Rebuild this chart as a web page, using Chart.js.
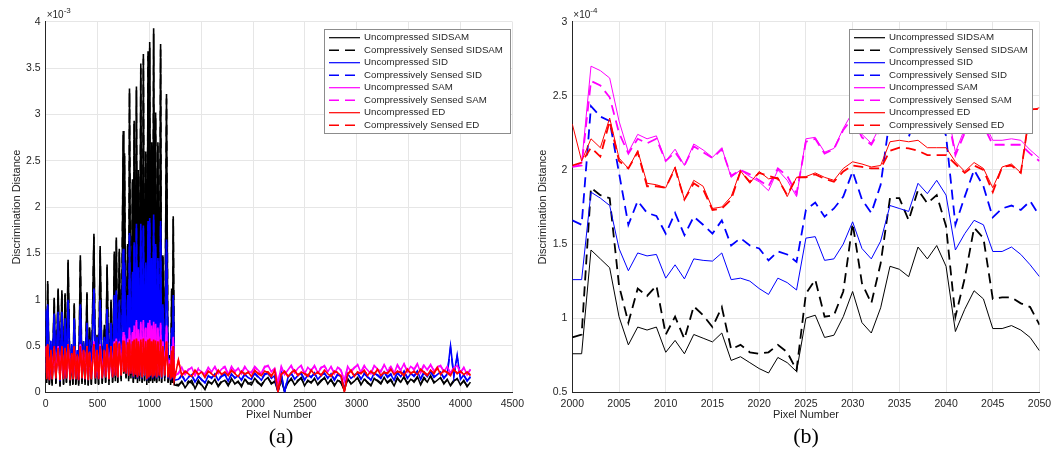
<!DOCTYPE html>
<html>
<head>
<meta charset="utf-8">
<script src="https://cdn.jsdelivr.net/npm/chart.js@4.4.1/dist/chart.umd.min.js"></script>
<style>
  body { margin: 0; background: #fff; width: 1059px; height: 465px; position: relative; overflow: hidden; }
  .panel { position: absolute; top: 0; }
  #full-wrap { left: 0; }
  #zoom-wrap { left: 530px; }
  .caption { position: absolute; top: 423px; transform: translateX(-50%); font-family: "Liberation Serif", "Times New Roman", serif; font-size: 22px; color: #000; }
</style>
</head>
<body>
<div class="panel" id="full-wrap"><canvas id="full-chart" width="530" height="430"></canvas></div>
<div class="panel" id="zoom-wrap"><canvas id="zoom-chart" width="529" height="430"></canvas></div>
<div class="caption" style="left:281px">(a)</div>
<div class="caption" style="left:806px">(b)</div>
<script>
const FONT = '"Liberation Sans", Arial, Helvetica, sans-serif';

const seriesNames = [
  'Uncompressed SIDSAM', 'Compressively Sensed SIDSAM',
  'Uncompressed SID', 'Compressively Sensed SID',
  'Uncompressed SAM', 'Compressively Sensed SAM',
  'Uncompressed ED', 'Compressively Sensed ED'
];
const seriesColors = ['#000000', '#000000', '#0000ff', '#0000ff', '#ff00ff', '#ff00ff', '#ff0000', '#ff0000'];
const seriesDashed = [false, true, false, true, false, true, false, true];

// ---- panel (a): all pixels, values in units of 1e-3 ----
// irregular samples through the spiky part, then a regular grid up to 4096
const fullPixels = [
  0,10,19,35,50,62,82,98,120,138,
  156,172,187,200,216,235,250,262,275,290,
  305,318,334,350,365,380,398,410,423,440,
  465,480,495,510,525,545,566,578,592,610,
  630,645,662,672,681,695,710,728,748,754,
  760,775,790,800,808,822,837,845,853,865,
  875,885,894,905,917,930,942,953,965,975,
  987,995,1003,1012,1022,1032,1041,1050,1060,1070,
  1082,1095,1108,1118,1130,1148,1165,1180,1195,1205,
  1215,1222,1230,1240
];
for (let p = 1280; p <= 4096; p += 32) fullPixels.push(p);

const fullUncompSIDSAM = [
  0.80,0.10,1.20,0.08,0.45,0.07,1.02,0.09,1.12,0.06,
  1.10,0.08,1.07,0.10,1.43,0.07,0.45,0.08,0.96,0.08,
  0.40,0.07,1.48,0.09,0.55,0.08,1.08,0.07,0.69,0.08,
  1.71,0.09,0.62,0.08,1.58,0.09,0.73,0.10,1.38,0.08,
  1.00,0.10,1.52,0.12,1.67,0.10,1.55,0.12,2.82,0.20,
  2.58,0.15,1.60,0.12,3.28,0.15,2.30,0.10,2.93,0.14,
  3.30,0.10,2.40,0.12,3.55,0.10,3.65,0.12,2.60,0.08,
  3.68,0.10,3.78,0.12,2.70,0.10,3.93,0.12,3.02,0.10,
  2.70,0.12,3.76,0.10,1.48,0.12,3.22,0.10,0.40,0.08,
  1.12,0.10,1.90,0.08,
  0.07,0.12,0.05,0.10,0.13,0.04,0.11,0.08,0.03,0.12,
  0.09,0.14,0.06,0.11,0.13,0.07,0.15,0.09,0.12,0.06,
  0.14,0.10,0.08,0.15,0.11,0.07,0.13,0.16,0.09,0.12,
  0.01,0.14,0.02,0.10,0.15,0.08,0.12,0.16,0.07,0.13,
  0.10,0.15,0.08,0.12,0.16,0.09,0.14,0.07,0.13,0.11,
  0.02,0.15,0.09,0.12,0.16,0.08,0.14,0.11,0.07,0.15,
  0.12,0.09,0.16,0.10,0.13,0.07,0.15,0.11,0.17,0.09,
  0.14,0.12,0.17,0.08,0.15,0.11,0.18,0.10,0.13,0.16,
  0.09,0.14,0.07,0.12,0.15,0.08,0.13,0.06,0.11
];
const fullCsSIDSAM = [
  0.78,0.11,1.17,0.09,0.47,0.08,1.00,0.10,1.10,0.07,
  1.08,0.09,1.05,0.11,1.40,0.08,0.47,0.09,0.94,0.09,
  0.42,0.08,1.45,0.10,0.53,0.09,1.06,0.08,0.71,0.09,
  1.68,0.10,0.60,0.09,1.55,0.10,0.71,0.11,1.35,0.09,
  0.98,0.11,1.49,0.13,1.64,0.11,1.52,0.13,2.78,0.21,
  2.55,0.16,1.58,0.13,3.24,0.16,2.27,0.11,2.90,0.15,
  3.26,0.11,2.37,0.13,3.50,0.11,3.60,0.13,2.57,0.09,
  3.63,0.11,3.72,0.13,2.66,0.11,3.87,0.13,2.98,0.11,
  2.66,0.13,3.70,0.11,1.46,0.13,3.17,0.11,0.42,0.09,
  1.10,0.11,1.87,0.09,
  0.08,0.11,0.06,0.12,0.10,0.05,0.13,0.07,0.04,0.11,
  0.10,0.13,0.07,0.12,0.14,0.08,0.13,0.10,0.11,0.07,
  0.15,0.09,0.11,0.14,0.10,0.08,0.14,0.15,0.10,0.11,
  0.02,0.13,0.01,0.11,0.14,0.09,0.13,0.15,0.08,0.12,
  0.11,0.14,0.09,0.13,0.15,0.10,0.13,0.08,0.14,0.10,
  0.03,0.14,0.10,0.13,0.15,0.09,0.15,0.10,0.08,0.14,
  0.13,0.10,0.15,0.11,0.14,0.08,0.16,0.10,0.16,0.10,
  0.15,0.11,0.16,0.09,0.16,0.12,0.17,0.11,0.14,0.15,
  0.10,0.13,0.08,0.13,0.14,0.09,0.12,0.07,0.10
];
const fullUncompSID = [
  0.90,0.15,0.95,0.13,0.55,0.14,0.85,0.15,0.87,0.12,
  0.87,0.14,0.80,0.15,1.00,0.13,0.50,0.14,0.80,0.14,
  0.45,0.13,0.95,0.15,0.55,0.14,0.75,0.13,0.55,0.14,
  1.12,0.15,0.60,0.14,1.00,0.15,0.60,0.16,0.90,0.14,
  0.75,0.16,1.05,0.18,1.10,0.16,1.00,0.18,1.55,0.25,
  1.40,0.20,1.05,0.18,1.72,0.20,1.30,0.16,1.62,0.19,
  1.82,0.15,1.35,0.18,1.82,0.15,1.80,0.17,1.40,0.13,
  1.85,0.15,1.88,0.17,1.45,0.15,1.92,0.17,1.60,0.15,
  1.45,0.17,1.85,0.15,0.95,0.17,1.65,0.15,0.35,0.13,
  0.70,0.15,1.05,0.13,
  0.14,0.18,0.12,0.16,0.19,0.11,0.17,0.14,0.10,0.18,
  0.15,0.20,0.13,0.17,0.19,0.12,0.20,0.15,0.18,0.13,
  0.19,0.16,0.14,0.21,0.17,0.13,0.19,0.21,0.15,0.18,
  0.00,0.20,0.00,0.16,0.21,0.14,0.18,0.21,0.13,0.19,
  0.16,0.21,0.14,0.18,0.21,0.15,0.20,0.13,0.19,0.17,
  0.03,0.20,0.15,0.18,0.21,0.14,0.20,0.17,0.13,0.21,
  0.18,0.15,0.22,0.16,0.19,0.13,0.21,0.17,0.23,0.15,
  0.20,0.18,0.23,0.14,0.21,0.17,0.23,0.16,0.19,0.22,
  0.15,0.20,0.50,0.18,0.40,0.14,0.19,0.12,0.17
];
const fullCsSID = [
  0.88,0.16,0.93,0.14,0.57,0.15,0.83,0.16,0.85,0.13,
  0.85,0.15,0.78,0.16,0.98,0.14,0.52,0.15,0.78,0.15,
  0.47,0.14,0.93,0.16,0.53,0.15,0.73,0.14,0.57,0.15,
  1.10,0.16,0.58,0.15,0.98,0.16,0.62,0.17,0.88,0.15,
  0.73,0.17,1.03,0.19,1.08,0.17,0.98,0.19,1.52,0.26,
  1.37,0.21,1.03,0.19,1.69,0.21,1.27,0.17,1.59,0.20,
  1.79,0.16,1.32,0.19,1.78,0.16,1.77,0.18,1.37,0.14,
  1.81,0.16,1.84,0.18,1.42,0.16,1.88,0.18,1.57,0.16,
  1.42,0.18,1.81,0.16,0.93,0.18,1.62,0.16,0.37,0.14,
  0.68,0.16,1.02,0.14,
  0.13,0.19,0.13,0.17,0.18,0.12,0.18,0.13,0.11,0.17,
  0.16,0.19,0.14,0.18,0.20,0.13,0.19,0.16,0.17,0.14,
  0.20,0.15,0.16,0.20,0.16,0.14,0.20,0.20,0.16,0.17,
  0.01,0.19,0.01,0.17,0.20,0.15,0.19,0.20,0.14,0.18,
  0.17,0.20,0.15,0.19,0.20,0.16,0.19,0.14,0.20,0.16,
  0.04,0.19,0.16,0.19,0.20,0.15,0.21,0.16,0.14,0.20,
  0.19,0.16,0.21,0.17,0.20,0.14,0.22,0.16,0.22,0.16,
  0.21,0.17,0.22,0.15,0.22,0.18,0.22,0.17,0.20,0.21,
  0.16,0.19,0.48,0.17,0.38,0.15,0.18,0.13,0.16
];
const fullUncompSAM = [
  0.50,0.17,0.50,0.16,0.42,0.17,0.48,0.18,0.50,0.16,
  0.48,0.17,0.47,0.18,0.52,0.16,0.40,0.17,0.48,0.17,
  0.38,0.16,0.52,0.18,0.45,0.17,0.50,0.16,0.42,0.17,
  0.55,0.18,0.45,0.17,0.52,0.18,0.45,0.19,0.52,0.17,
  0.50,0.19,0.55,0.21,0.58,0.19,0.55,0.21,0.65,0.26,
  0.62,0.23,0.58,0.21,0.70,0.23,0.65,0.20,0.72,0.22,
  0.78,0.19,0.68,0.21,0.76,0.19,0.78,0.21,0.70,0.17,
  0.75,0.19,0.78,0.21,0.72,0.19,0.76,0.21,0.74,0.19,
  0.70,0.21,0.75,0.19,0.55,0.21,0.72,0.19,0.35,0.17,
  0.50,0.19,0.60,0.17,
  0.21,0.27,0.19,0.24,0.27,0.18,0.25,0.22,0.19,0.27,
  0.22,0.28,0.20,0.25,0.27,0.19,0.28,0.22,0.26,0.20,
  0.27,0.23,0.21,0.28,0.24,0.20,0.27,0.29,0.22,0.26,
  0.10,0.28,0.19,0.24,0.29,0.21,0.26,0.29,0.20,0.27,
  0.23,0.29,0.21,0.26,0.29,0.22,0.28,0.20,0.27,0.24,
  0.12,0.28,0.22,0.26,0.30,0.21,0.28,0.24,0.20,0.29,
  0.25,0.22,0.30,0.23,0.27,0.20,0.30,0.24,0.31,0.22,
  0.28,0.25,0.31,0.21,0.29,0.24,0.30,0.23,0.27,0.29,
  0.22,0.28,0.20,0.26,0.29,0.21,0.27,0.19,0.25
];
const fullCsSAM = [
  0.49,0.18,0.49,0.17,0.43,0.18,0.47,0.19,0.49,0.17,
  0.47,0.18,0.46,0.19,0.51,0.17,0.41,0.18,0.47,0.18,
  0.39,0.17,0.51,0.19,0.44,0.18,0.49,0.17,0.43,0.18,
  0.54,0.19,0.44,0.18,0.51,0.19,0.44,0.20,0.51,0.18,
  0.49,0.20,0.54,0.22,0.57,0.20,0.54,0.22,0.63,0.27,
  0.61,0.24,0.57,0.22,0.68,0.24,0.64,0.21,0.70,0.23,
  0.76,0.20,0.67,0.22,0.74,0.20,0.76,0.22,0.69,0.18,
  0.73,0.20,0.76,0.22,0.71,0.20,0.74,0.22,0.72,0.20,
  0.69,0.22,0.73,0.20,0.54,0.22,0.70,0.20,0.36,0.18,
  0.49,0.20,0.59,0.18,
  0.20,0.26,0.20,0.25,0.26,0.19,0.26,0.21,0.20,0.26,
  0.23,0.27,0.21,0.26,0.28,0.20,0.27,0.23,0.25,0.21,
  0.28,0.22,0.22,0.27,0.23,0.21,0.28,0.28,0.23,0.25,
  0.11,0.27,0.20,0.25,0.28,0.22,0.27,0.28,0.21,0.26,
  0.24,0.28,0.22,0.27,0.28,0.23,0.27,0.21,0.28,0.23,
  0.13,0.27,0.23,0.27,0.29,0.22,0.29,0.23,0.21,0.28,
  0.26,0.23,0.29,0.24,0.28,0.21,0.29,0.23,0.30,0.23,
  0.29,0.24,0.30,0.22,0.30,0.25,0.29,0.24,0.28,0.28,
  0.23,0.27,0.21,0.27,0.28,0.22,0.26,0.20,0.24
];
const fullUncompED = [
  0.50,0.14,0.52,0.13,0.45,0.14,0.50,0.15,0.48,0.13,
  0.50,0.14,0.48,0.15,0.52,0.13,0.42,0.14,0.50,0.14,
  0.40,0.13,0.50,0.15,0.46,0.14,0.50,0.13,0.44,0.14,
  0.52,0.15,0.46,0.14,0.50,0.15,0.46,0.16,0.52,0.14,
  0.50,0.16,0.53,0.18,0.55,0.16,0.53,0.18,0.56,0.22,
  0.55,0.20,0.54,0.18,0.57,0.20,0.55,0.17,0.57,0.19,
  0.58,0.16,0.55,0.18,0.57,0.16,0.58,0.18,0.55,0.14,
  0.57,0.16,0.58,0.18,0.55,0.16,0.57,0.18,0.56,0.16,
  0.55,0.18,0.57,0.16,0.50,0.18,0.55,0.16,0.30,0.14,
  0.45,0.16,0.50,0.14,
  0.35,0.18,0.23,0.20,0.17,0.24,0.19,0.22,0.16,0.23,
  0.20,0.17,0.24,0.19,0.22,0.18,0.24,0.20,0.17,0.23,
  0.19,0.22,0.17,0.24,0.20,0.18,0.23,0.21,0.17,0.24,
  0.00,0.19,0.23,0.17,0.21,0.24,0.18,0.22,0.20,0.17,
  0.24,0.19,0.22,0.18,0.24,0.20,0.17,0.23,0.21,0.18,
  0.00,0.19,0.24,0.17,0.22,0.20,0.24,0.18,0.23,0.19,
  0.25,0.18,0.22,0.20,0.25,0.19,0.23,0.21,0.18,0.25,
  0.20,0.23,0.19,0.25,0.21,0.18,0.24,0.20,0.27,0.19,
  0.24,0.21,0.18,0.25,0.20,0.23,0.19,0.22,0.18
];
const fullCsED = [
  0.49,0.15,0.51,0.14,0.46,0.15,0.49,0.16,0.47,0.14,
  0.49,0.15,0.47,0.16,0.51,0.14,0.43,0.15,0.49,0.15,
  0.41,0.14,0.49,0.16,0.45,0.15,0.49,0.14,0.45,0.15,
  0.51,0.16,0.45,0.15,0.49,0.16,0.45,0.17,0.51,0.15,
  0.49,0.17,0.52,0.19,0.54,0.17,0.52,0.19,0.55,0.23,
  0.54,0.21,0.53,0.19,0.56,0.21,0.54,0.18,0.56,0.20,
  0.57,0.17,0.54,0.19,0.56,0.17,0.57,0.19,0.54,0.15,
  0.56,0.17,0.57,0.19,0.54,0.17,0.56,0.19,0.55,0.17,
  0.54,0.19,0.56,0.17,0.49,0.19,0.54,0.17,0.31,0.15,
  0.44,0.17,0.49,0.15,
  0.34,0.19,0.22,0.21,0.18,0.23,0.20,0.21,0.17,0.22,
  0.21,0.18,0.23,0.20,0.21,0.19,0.23,0.21,0.18,0.22,
  0.20,0.21,0.18,0.23,0.21,0.19,0.22,0.22,0.18,0.23,
  0.02,0.20,0.22,0.18,0.22,0.23,0.19,0.21,0.21,0.18,
  0.23,0.20,0.21,0.19,0.23,0.21,0.18,0.22,0.22,0.19,
  0.01,0.20,0.23,0.18,0.21,0.21,0.23,0.19,0.22,0.20,
  0.24,0.19,0.21,0.21,0.24,0.20,0.22,0.22,0.19,0.24,
  0.21,0.22,0.20,0.24,0.22,0.19,0.23,0.21,0.26,0.20,
  0.23,0.22,0.19,0.24,0.21,0.22,0.20,0.21,0.19
];

// ---- panel (b): pixels 2000-2050, values in units of 1e-4 ----
const zoomPixels = [];
for (let p = 2000; p <= 2050; p++) zoomPixels.push(p);

const zoomUncompSIDSAM = [
  0.76,0.76,1.46,1.40,1.34,1.01,0.82,0.94,0.92,0.94,
  0.77,0.85,0.76,0.89,0.865,0.84,0.90,0.715,0.74,0.70,
  0.66,0.63,0.735,0.70,0.64,1.00,1.02,0.87,0.885,1.01,
  1.18,0.97,0.90,1.07,1.35,1.33,1.28,1.48,1.40,1.49,
  1.35,0.91,1.06,1.185,1.13,0.93,0.93,0.95,0.92,0.87,
  0.78
];
const zoomCsSIDSAM = [
  0.87,0.89,1.88,1.83,1.81,1.22,0.97,1.20,1.15,1.22,
  0.89,1.01,0.86,1.08,1.02,0.94,1.075,0.79,0.82,0.77,
  0.76,0.77,0.82,0.77,0.65,1.165,1.26,1.01,1.02,1.18,
  1.64,1.235,1.10,1.37,1.81,1.81,1.66,1.865,1.775,1.83,
  1.62,1.01,1.27,1.61,1.54,1.13,1.14,1.14,1.10,1.075,
  0.955
];
const zoomUncompSID = [
  1.26,1.26,1.85,1.81,1.76,1.47,1.32,1.44,1.42,1.43,
  1.27,1.36,1.265,1.40,1.39,1.385,1.44,1.26,1.27,1.25,
  1.20,1.16,1.27,1.24,1.19,1.54,1.55,1.39,1.40,1.50,
  1.65,1.47,1.40,1.52,1.76,1.74,1.72,1.91,1.84,1.93,
  1.83,1.46,1.57,1.66,1.63,1.45,1.45,1.48,1.43,1.36,
  1.28
];
const zoomCsSID = [
  1.66,1.63,2.43,2.36,2.33,1.98,1.63,1.79,1.71,1.69,
  1.57,1.71,1.56,1.685,1.63,1.57,1.66,1.49,1.54,1.49,
  1.47,1.39,1.45,1.43,1.38,1.73,1.78,1.685,1.74,1.82,
  1.99,1.80,1.71,1.90,2.36,2.37,2.22,2.42,2.34,2.42,
  2.23,1.63,1.82,2.00,1.89,1.68,1.74,1.76,1.73,1.79,
  1.69
];
const zoomUncompSAM = [
  2.02,2.045,2.70,2.67,2.62,2.33,2.12,2.24,2.21,2.23,
  2.06,2.14,2.03,2.175,2.135,2.085,2.15,1.95,2.00,1.955,
  1.92,1.86,2.00,1.93,1.82,2.21,2.22,2.12,2.145,2.28,
  2.39,2.24,2.18,2.30,2.45,2.44,2.40,2.55,2.50,2.56,
  2.45,2.12,2.28,2.38,2.33,2.20,2.20,2.21,2.20,2.135,
  2.08
];
const zoomCsSAM = [
  2.02,2.03,2.60,2.57,2.49,2.25,2.11,2.21,2.18,2.21,
  2.06,2.12,2.03,2.16,2.12,2.08,2.14,1.96,2.00,1.97,
  1.93,1.89,2.01,1.96,1.84,2.19,2.21,2.11,2.14,2.27,
  2.35,2.22,2.17,2.28,2.42,2.41,2.37,2.51,2.46,2.52,
  2.42,2.10,2.25,2.35,2.30,2.17,2.17,2.17,2.17,2.11,
  2.06
];
const zoomUncompED = [
  2.31,2.06,2.21,2.15,2.35,2.08,2.01,2.13,1.91,1.90,
  1.88,2.02,1.80,1.93,1.89,1.74,1.75,1.82,1.995,1.91,
  1.99,1.94,1.95,1.82,1.95,1.955,1.98,1.95,1.93,2.01,
  2.055,2.04,2.02,2.03,2.19,2.20,2.19,2.20,2.15,2.15,
  2.15,2.055,1.99,2.05,2.01,1.88,2.02,2.04,1.98,2.40,
  2.42
];
const zoomCsED = [
  2.03,2.05,2.15,2.09,2.33,2.06,2.01,2.12,1.89,1.89,
  1.88,2.01,1.80,1.91,1.87,1.73,1.74,1.80,1.99,1.92,
  1.98,1.96,1.94,1.83,1.95,1.95,1.97,1.94,1.92,1.99,
  2.03,2.02,2.01,2.01,2.13,2.15,2.145,2.13,2.10,2.10,
  2.10,2.04,1.98,2.03,2.00,1.85,2.02,2.03,1.98,2.41,
  2.41
];

// later series are drawn on top, as in the original plot order
function buildDatasets(xs, series, solidWidth, dashedWidth) {
  return series.map((vals, i) => ({
    label: seriesNames[i],
    data: vals.map((v, k) => ({ x: xs[k], y: v })),
    borderColor: seriesColors[i],
    borderWidth: seriesDashed[i] ? dashedWidth : solidWidth,
    borderDash: seriesDashed[i] ? [10, 6] : [],
    pointRadius: 0,
    tension: 0,
    order: series.length - i
  }));
}

function buildScales(o) {
  const tickFont = { family: FONT, size: 10.5 };
  const fmt = v => String(+v.toFixed(2));
  return {
    x: {
      type: 'linear', min: o.xMin, max: o.xMax,
      ticks: { stepSize: o.xStep, color: '#262626', font: tickFont, padding: 6, maxRotation: 0, autoSkip: false, callback: fmt },
      grid: { color: '#e6e6e6', drawTicks: false },
      border: { color: '#262626', width: 1 },
      afterFit: s => { s.height = o.xAxisHeight; }
    },
    y: {
      type: 'linear', min: o.yMin, max: o.yMax,
      ticks: { stepSize: o.yStep, color: '#262626', font: tickFont, padding: 5, autoSkip: false, callback: fmt },
      grid: { color: '#e6e6e6', drawTicks: false },
      border: { color: '#262626', width: 1 },
      afterFit: s => { s.width = o.yAxisWidth; }
    }
  };
}

// axis titles, the x10^n multiplier and the boxed legend inside the axes
const decorations = {
  id: 'decorations',
  afterDraw(chart, args, opts) {
    const { ctx, chartArea: a } = chart;
    ctx.save();
    ctx.fillStyle = '#262626';
    ctx.textAlign = 'left';
    ctx.textBaseline = 'alphabetic';
    ctx.font = '10px ' + FONT;
    ctx.fillText('\u00d710', a.left + 1, a.top - 4);
    const w = ctx.measureText('\u00d710').width;
    ctx.font = '8px ' + FONT;
    ctx.fillText(opts.exponent, a.left + 1 + w, a.top - 9);

    ctx.font = '11px ' + FONT;
    ctx.textAlign = 'center';
    ctx.textBaseline = 'middle';
    ctx.fillText('Pixel Number', (a.left + a.right) / 2, opts.xTitleY);
    ctx.save();
    ctx.translate(opts.yTitleX, (a.top + a.bottom) / 2);
    ctx.rotate(-Math.PI / 2);
    ctx.fillText('Discrimination Distance', 0, 0);
    ctx.restore();

    const b = opts.legendBox;
    ctx.fillStyle = '#ffffff';
    ctx.fillRect(b.x, b.y, b.w, b.h);
    ctx.strokeStyle = '#8c8c8c';
    ctx.lineWidth = 1;
    ctx.strokeRect(b.x + 0.5, b.y + 0.5, b.w, b.h);
    ctx.font = '9.7px ' + FONT;
    ctx.textAlign = 'left';
    chart.data.datasets.forEach((ds, i) => {
      const y = b.y + 8.7 + i * 12.5;
      ctx.strokeStyle = ds.borderColor;
      ctx.lineWidth = seriesDashed[i] ? 1.5 : 1.2;
      ctx.setLineDash(ds.borderDash);
      ctx.beginPath();
      ctx.moveTo(b.x + 5, y);
      ctx.lineTo(b.x + 36, y);
      ctx.stroke();
      ctx.setLineDash([]);
      ctx.fillStyle = '#262626';
      ctx.fillText(ds.label, b.x + 40, y);
    });
    ctx.restore();
  }
};

new Chart(document.getElementById('full-chart'), {
  type: 'line',
  data: {
    datasets: buildDatasets(fullPixels, [
      fullUncompSIDSAM, fullCsSIDSAM, fullUncompSID, fullCsSID,
      fullUncompSAM, fullCsSAM, fullUncompED, fullCsED
    ], 1.6, 1.6)
  },
  options: {
    responsive: false,
    animation: false,
    events: [],
    layout: { padding: { top: 21.7, right: 13, left: 0, bottom: 0 } },
    scales: buildScales({ xMin: 0, xMax: 4500, xStep: 500, yMin: 0, yMax: 4, yStep: 0.5, xAxisHeight: 37.7, yAxisWidth: 45.7 }),
    plugins: {
      legend: { display: false },
      tooltip: { enabled: false },
      decorations: { exponent: '-3', xTitleY: 415, yTitleX: 17, legendBox: { x: 324, y: 29, w: 186, h: 104 } }
    }
  },
  plugins: [decorations]
});

new Chart(document.getElementById('zoom-chart'), {
  type: 'line',
  data: {
    datasets: buildDatasets(zoomPixels, [
      zoomUncompSIDSAM, zoomCsSIDSAM, zoomUncompSID, zoomCsSID,
      zoomUncompSAM, zoomCsSAM, zoomUncompED, zoomCsED
    ], 1, 1.8)
  },
  options: {
    responsive: false,
    animation: false,
    events: [],
    layout: { padding: { top: 21.7, right: 19.5, left: 0, bottom: 0 } },
    scales: buildScales({ xMin: 2000, xMax: 2050, xStep: 5, yMin: 0.5, yMax: 3, yStep: 0.5, xAxisHeight: 37.7, yAxisWidth: 42.3 }),
    plugins: {
      legend: { display: false },
      tooltip: { enabled: false },
      decorations: { exponent: '-4', xTitleY: 415, yTitleX: 13, legendBox: { x: 319, y: 29, w: 183, h: 104 } }
    }
  },
  plugins: [decorations]
});
</script>
</body>
</html>
